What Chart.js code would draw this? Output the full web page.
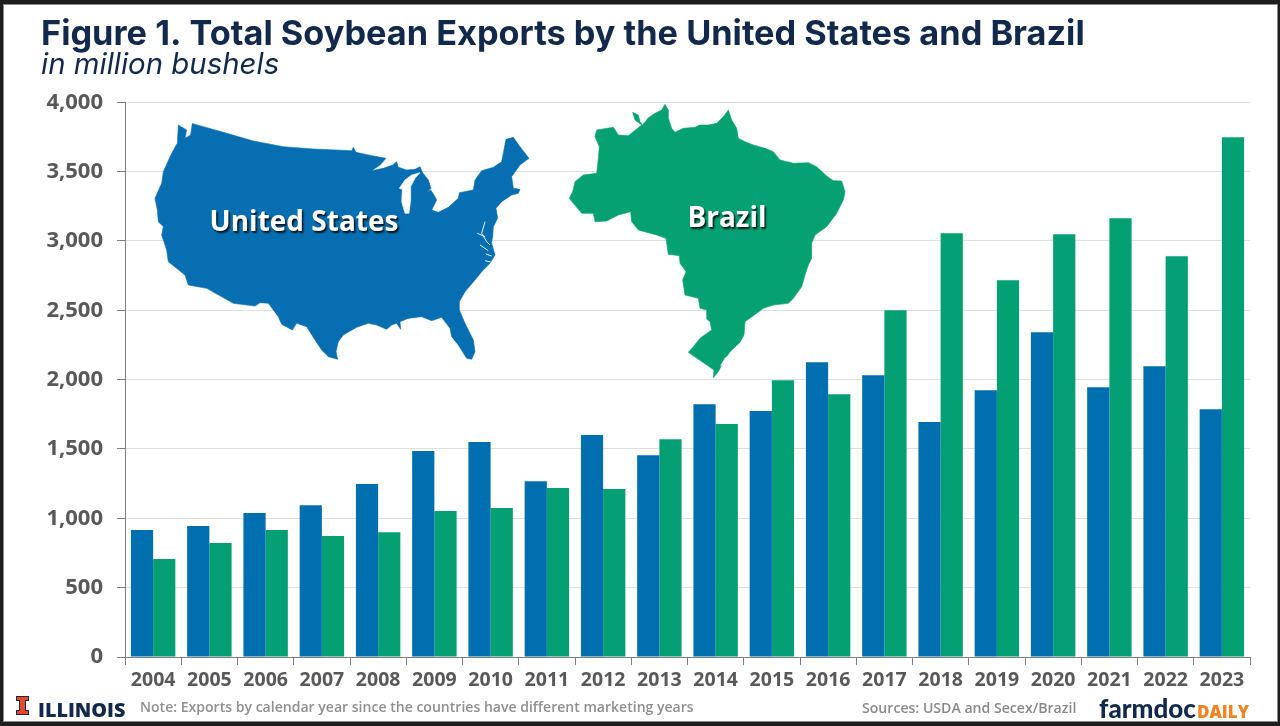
<!DOCTYPE html>
<html><head><meta charset="utf-8">
<script src="https://cdn.jsdelivr.net/npm/chart.js@4"></script>
<style>
html,body{margin:0;padding:0;width:1280px;height:726px;overflow:hidden;background:#1d1d1d}
#frame{position:absolute;left:4px;top:5px;width:1273px;height:716px;background:#fff;box-shadow:0 0 0 1px #8a8a8a}
canvas{position:absolute;left:0;top:0}
.t{position:absolute;white-space:nowrap;line-height:1}
#note{left:140px;top:697px;font:600 14.05px "Open Sans";color:#8f8f8f}
#src{left:862px;top:698px;font:600 14.1px "Open Sans";color:#8a8a8a}
#ill{left:38px;top:696px;font:800 19.8px "Open Sans";color:#13294b}
#logo{position:absolute;left:16px;top:696px;width:13px;height:19px}
#fd{left:1099px;top:692px;font:900 26px "Lato";color:#13294b}
#dl{left:1197px;top:700px;font:800 17px "Open Sans";color:#f58220}
</style></head><body>
<div id="frame"></div>
<canvas id="c" width="1280" height="726"></canvas>
<svg id="logo" viewBox="0 0 13 19"><path d="M0 0H13V5H10V14H13V19H0V14H3V5H0Z" fill="#13294b"/><path d="M1 1H12V4H9V15H12V18H1V15H4V4H1Z" fill="#e84a27"/></svg>
<div class="t" id="ill">ILLINOIS</div>
<div class="t" id="note">Note: Exports by calendar year since the countries have different marketing years</div>
<div class="t" id="src">Sources: USDA and Secex/Brazil</div>
<div class="t" id="fd">farmdoc</div>
<div class="t" id="dl">DAILY</div>
<script>
const years=["2004","2005","2006","2007","2008","2009","2010","2011","2012","2013","2014","2015","2016","2017","2018","2019","2020","2021","2022","2023"];
const usExports=[915,944,1038,1095,1247,1485,1550,1268,1600,1455,1823,1773,2126,2032,1694,1924,2342,1946,2097,1787];
const brazilExports=[706,822,915,872,900,1052,1074,1218,1211,1571,1680,1996,1895,2500,3056,2717,3048,3164,2890,3748];
const titleText="Figure 1. Total Soybean Exports by the United States and Brazil";
const subtitleText="in million bushels";

// Decorative map silhouettes (traced outlines, not data). Each run is [originX, originY, x,y,...] at 3x.
const usNorth=[140,95, 158,86,250,112,340,138,430,155,520,162,635,167,640,157,648,172,700,183];
const usLakesEast=[370,130, 48,85,30,105,5,122,40,115,68,105,80,95,85,112,110,120,135,118,150,110,158,128,175,150,183,175,168,188,182,180,192,195,200,210,185,240,205,247,235,232,265,205,268,188,310,180,315,150,335,122,370,112,395,95,408,28,430,22,450,50,477,85,450,105,425,140,430,175,450,178,445,190,425,195,395,215,378,235,383,265,370,290,368,320,362,350];
const usSoutheast=[400,230, 275,40,285,75,270,100,245,125,225,150,195,185,178,215,178,240,195,280,220,330,225,365,215,388,200,385,175,345,155,320,150,295,125,262,95,272,65,260,25,265,0,262];
const usGulf=[260,290, 480,75,445,85,420,95,422,118,410,100,395,105,380,118,350,105,325,100,290,112,250,135,235,155,228,185,233,208,205,200,185,180,165,150,140,110,110,100,97,120,65,103,55,80,25,40,0,38];
const usWest=[150,120, 315,558,250,550,170,505,115,495,105,465,55,425,50,390,35,345,40,320,25,305,22,270,15,235,35,190,40,155,65,100,82,70,85,15,110,30,105,55,122,45,127,10];
const lakeMichigan=[370,130, 150,128,125,135,105,150,88,175,97,178,95,215,105,250,117,250,122,210,122,170,135,145];
const coastStreaks=[
  [370,130, 345,275,335,310,350,335,360,345],
  [370,130, 322,310,345,320],
  [370,130, 385,230,415,210],
  [400,230, 240,45,265,62],
  [400,230, 258,72,275,78],
  [400,230, 255,92,272,96]
];
const brazilOutline=[560,95, 218,52,235,60,240,80,248,90,265,68,285,55,305,45,315,28,325,45,325,70,335,100,345,112,370,100,405,97,420,90,445,90,470,85,490,65,505,45,515,75,530,100,535,130,555,140,580,150,615,160,640,170,660,195,700,205,745,203,770,215,800,243,820,257,845,258,855,290,850,315,830,355,800,395,765,420,755,445,755,490,745,510,735,540,725,575,700,610,685,625,640,630,610,640,590,655,555,680,552,720,540,742,510,770,490,800,475,830,460,848,462,825,440,810,385,772,400,755,420,730,455,705,450,680,440,672,440,645,420,640,415,610,375,600,368,555,378,530,360,505,358,482,325,478,318,430,290,420,235,405,215,380,212,350,175,360,140,378,105,380,100,355,65,355,40,325,28,310,38,290,45,260,70,240,110,235,115,190,118,155,105,125,110,105,160,97,175,120,205,122,245,90,225,75];
const brazilLagoon=[560,95, 510,778,495,790,482,812,492,808];

function trace(ctx,runs){
  ctx.beginPath();let first=true;
  for(const r of runs){for(let i=2;i<r.length;i+=2){const x=r[0]+r[i]/3,y=r[1]+r[i+1]/3;first?ctx.moveTo(x,y):ctx.lineTo(x,y);first=false;}}
  ctx.closePath();
}
function fill(ctx,runs,color){trace(ctx,runs);ctx.fillStyle=color;ctx.fill();ctx.strokeStyle=color;ctx.lineWidth=.6;ctx.lineJoin='round';ctx.stroke();}
function label(ctx,text,x,y,size){
  ctx.save();
  ctx.font='700 '+size+'px "Open Sans"';ctx.textAlign='center';ctx.textBaseline='middle';
  ctx.shadowColor='rgba(0,0,0,.85)';ctx.shadowOffsetX=1.5;ctx.shadowOffsetY=2;ctx.shadowBlur=2;
  ctx.fillStyle='#fff';ctx.fillText(text,x,y);ctx.restore();
}
const mapsPlugin={id:'maps',afterDatasetsDraw(chart){
  const ctx=chart.ctx;ctx.save();
  fill(ctx,[usNorth,usLakesEast,usSoutheast,usGulf,usWest],'#076fb1');
  fill(ctx,[lakeMichigan],'#fff');
  ctx.strokeStyle='#e8f0f6';ctx.lineWidth=1;
  for(const s of coastStreaks){ctx.beginPath();for(let i=2;i<s.length;i+=2){const x=s[0]+s[i]/3,y=s[1]+s[i+1]/3;i==2?ctx.moveTo(x,y):ctx.lineTo(x,y);}ctx.stroke();}
  fill(ctx,[brazilOutline],'#05a173');
  fill(ctx,[brazilLagoon],'#fff');
  ctx.restore();
  label(ctx,'United States',304,223,28);
  label(ctx,'Brazil',727,219,28);
}};
new Chart(document.getElementById('c'),{
  type:'bar',
  data:{labels:years,datasets:[
    {label:'United States',data:usExports,backgroundColor:'#006fb0',categoryPercentage:.79,barPercentage:1},
    {label:'Brazil',data:brazilExports,backgroundColor:'#04a074',categoryPercentage:.79,barPercentage:1}
  ]},
  plugins:[mapsPlugin],
  options:{
    responsive:false,animation:false,devicePixelRatio:1,
    layout:{padding:{left:41,right:30,top:18,bottom:0}},
    plugins:{
      legend:{display:false},tooltip:{enabled:false},
      title:{display:true,text:titleText,align:'start',color:'#13294b',font:{family:'Inter',weight:'700',size:34.3,lineHeight:.95},padding:{top:0,bottom:0}},
      subtitle:{display:true,text:subtitleText,align:'start',color:'#13294b',font:{family:'Inter',style:'italic',weight:'400',size:29.4,lineHeight:1},padding:{top:0,bottom:22.3}}
    },
    scales:{
      x:{
        grid:{drawOnChartArea:false,tickLength:8,tickColor:'#7f7f7f',offset:true},
        border:{color:'#7f7f7f'},
        ticks:{color:'#595959',padding:4,maxRotation:0,autoSkip:false,font:{family:'Open Sans',weight:'700',size:19.5}},
        afterFit(s){s.height=69;}
      },
      y:{
        min:0,max:4000,
        grid:{color:'#dfdfdf',tickLength:8,tickColor:'#7f7f7f'},
        border:{color:'#7f7f7f'},
        ticks:{stepSize:500,color:'#595959',padding:14,font:{family:'Open Sans',weight:'700',size:22}},
        afterFit(s){s.width=84;}
      }
    }
  }
});
</script></body></html>
